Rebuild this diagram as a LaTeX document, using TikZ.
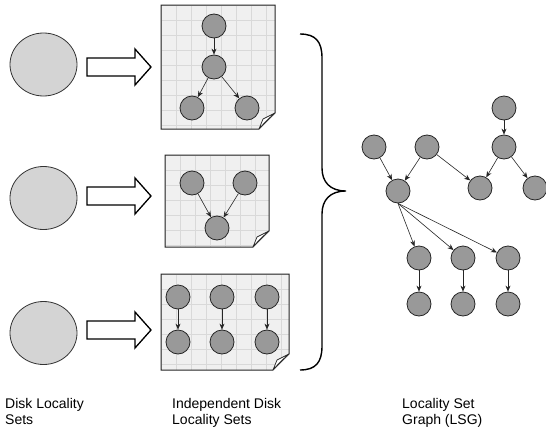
\documentclass[tikz,border=0pt]{standalone}
\usepackage{fontspec}
\setmainfont{Liberation Sans}
\usetikzlibrary{arrows.meta,shapes.geometric}
\begin{document}
\begin{tikzpicture}[x=1pt,y=-1pt,
  disk/.style={draw=black!80,fill=black!17,ellipse,line width=0.8pt,minimum width=67pt,minimum height=63pt,inner sep=0pt},
  vtx/.style={circle,draw=black!85,fill=black!40,line width=0.8pt,minimum size=24pt,inner sep=0pt},
  edge/.style={draw=black!85,line width=0.6pt,-{Stealth[length=6pt,width=5pt]}},
  blockarrow/.style={draw=black,line width=1.3pt,fill=white,line join=miter},
  brace/.style={draw=black,line width=1.4pt},
  gridline/.style={draw=black!15,line width=0.5pt},
  lbl/.style={align=left,anchor=north west,inner sep=0pt,font=\fontsize{14}{16.5}\selectfont}
]
\useasboundingbox (0,0) rectangle (546,434);
\fill[white] (0,0) rectangle (546,434);

% paper panel: #1 x0, #2 y0, #3 x1, #4 y1
\newcommand{\paperpanel}[4]{%
  \begin{scope}
    \clip (#1,#2) -- (#3,#2) -- (#3,#4-16) -- (#3-16,#4) -- (#1,#4) -- cycle;
    \fill[black!6] (#1,#2) rectangle (#3,#4);
    \foreach \gx in {0,15,...,150} {\draw[gridline] (#1+\gx,#2) -- (#1+\gx,#4);}
    \foreach \gy in {0,15,...,150} {\draw[gridline] (#1,#2+\gy) -- (#3,#2+\gy);}
  \end{scope}
  \draw[black!85,line width=1pt,line join=miter] (#1,#2) -- (#3,#2) -- (#3,#4-16) .. controls (#3-6,#4-10) .. (#3-16,#4) -- (#1,#4) -- cycle;
  \draw[black!85,line width=0.7pt,fill=white,line join=round] (#3,#4-16) -- (#3-12,#4-10) -- (#3-16,#4) .. controls (#3-9,#4-8) .. cycle;
}

% disks
\node[disk] (d1) at (43.5,64.5) {};
\node[disk] (d2) at (43.5,198) {};
\node[disk] (d3) at (43.5,333) {};

% block arrows
\newcommand{\blockarr}[1]{%
  \draw[blockarrow] (87,#1-9) -- (135,#1-9) -- (135,#1-18) -- (151,#1) -- (135,#1+18) -- (135,#1+9) -- (87,#1+9) -- cycle;
}
\blockarr{67}
\blockarr{196}
\blockarr{330}

% panels
\paperpanel{161}{5}{275}{129}
\paperpanel{165}{155}{269}{247}
\paperpanel{161}{274}{289}{370}

% panel 1
\node[vtx] (p1a) at (214,26) {};
\node[vtx] (p1b) at (214,67) {};
\node[vtx] (p1c) at (192,108) {};
\node[vtx] (p1d) at (247,108) {};
\draw[edge] (p1a) -- (p1b);
\draw[edge] (p1b) -- (p1c);
\draw[edge] (p1b) -- (p1d);

% panel 2
\node[vtx] (p2a) at (192,183) {};
\node[vtx] (p2b) at (245,183) {};
\node[vtx] (p2c) at (217,228) {};
\draw[edge] (p2a) -- (p2c);
\draw[edge] (p2b) -- (p2c);

% panel 3
\node[vtx] (p3a) at (178,297) {};
\node[vtx] (p3b) at (222,297) {};
\node[vtx] (p3c) at (267,297) {};
\node[vtx] (p3d) at (178,342) {};
\node[vtx] (p3e) at (222,342) {};
\node[vtx] (p3f) at (267,342) {};
\draw[edge] (p3a) -- (p3d);
\draw[edge] (p3b) -- (p3e);
\draw[edge] (p3c) -- (p3f);

% brace
\draw[brace] (300,34) .. controls (316,34) and (322,42) .. (322,58)
  -- (322,168) .. controls (322,182) and (330,191) .. (346,191)
  .. controls (330,191) and (322,200) .. (322,214)
  -- (322,346) .. controls (322,362) and (316,370) .. (300,370);

% LSG
\node[vtx] (A) at (504,108) {};
\node[vtx] (B) at (504,147) {};
\node[vtx] (C) at (374,147) {};
\node[vtx] (D) at (427,147) {};
\node[vtx] (E) at (398,191) {};
\node[vtx] (F) at (480,188) {};
\node[vtx] (G) at (535,188) {};
\node[vtx] (H1) at (419,258) {};
\node[vtx] (H2) at (463,258) {};
\node[vtx] (H3) at (508,258) {};
\node[vtx] (I1) at (419,304) {};
\node[vtx] (I2) at (463,304) {};
\node[vtx] (I3) at (508,304) {};
\draw[edge] (A) -- (B);
\draw[edge] (B) -- (F);
\draw[edge] (B) -- (G);
\draw[edge] (C) -- (E);
\draw[edge] (D) -- (E);
\draw[edge] (D) -- (F);
\draw[edge] (E.south) -- (H1);
\draw[edge] (E.south) -- (H2);
\draw[edge] (E.south) -- (H3);
\draw[edge] (H1) -- (I1);
\draw[edge] (H2) -- (I2);
\draw[edge] (H3) -- (I3);

% labels
\node[lbl] (l1) at (5,398) {Disk Locality\\Sets};
\node[lbl] (l2) at (172,398) {Independent Disk\\Locality Sets};
\node[lbl] (l3) at (402,398) {Locality Set\\Graph (LSG)};
\end{tikzpicture}
\end{document}
